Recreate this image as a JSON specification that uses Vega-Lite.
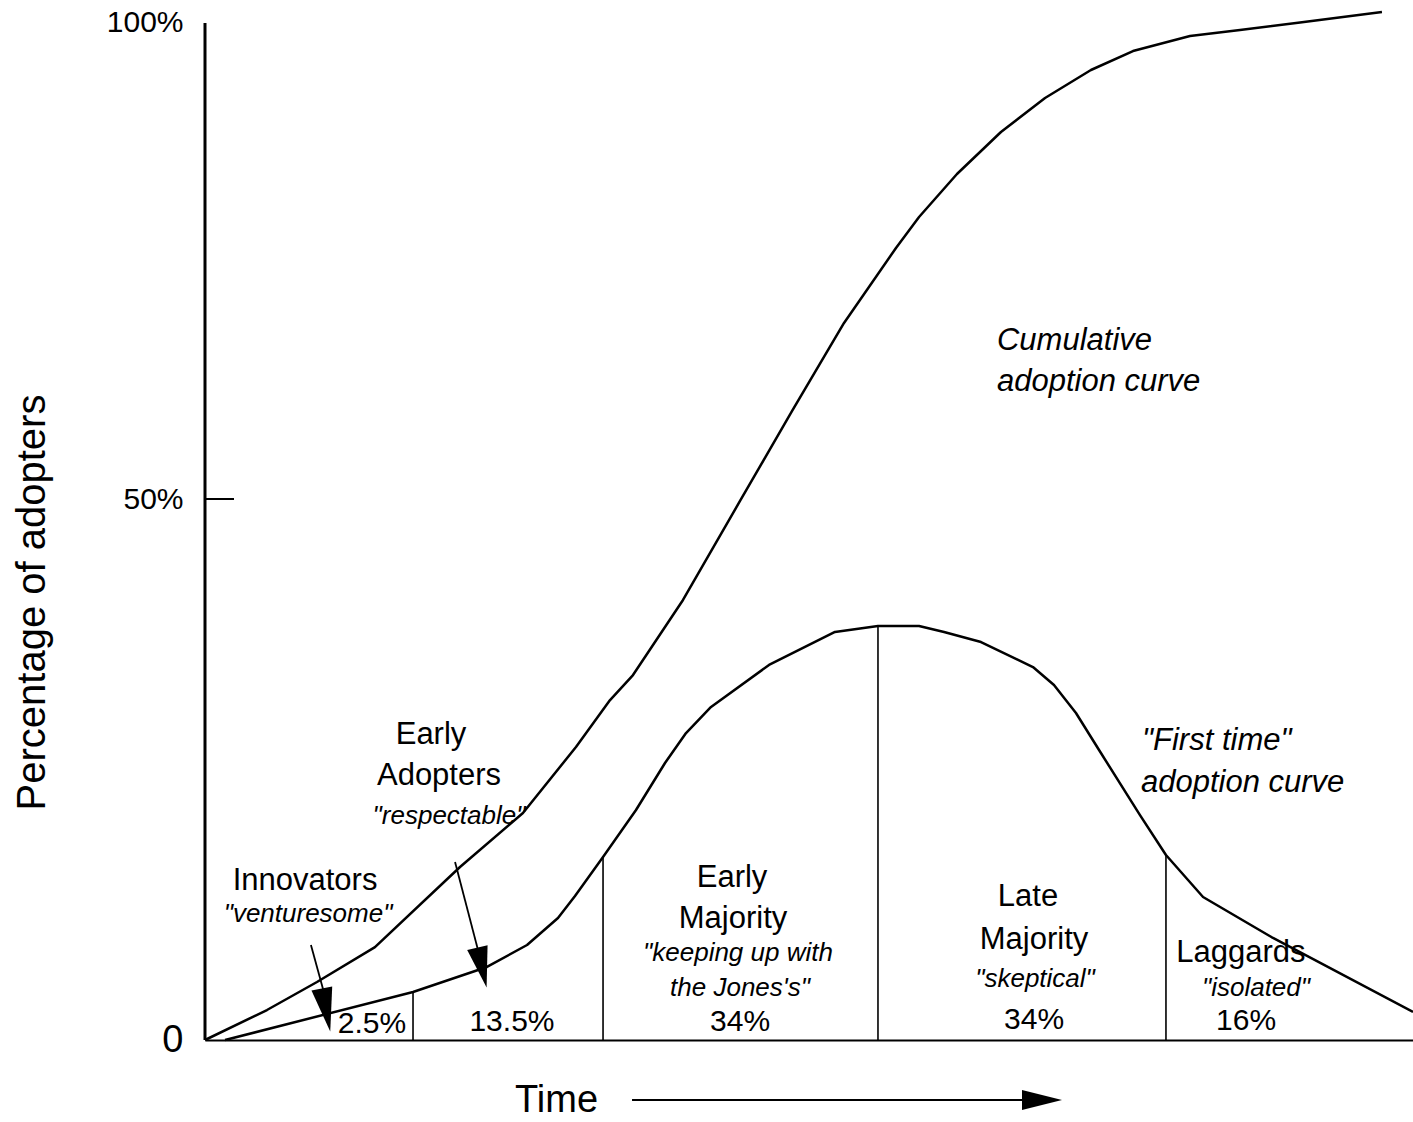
{
  "$schema": "https://vega.github.io/schema/vega-lite/v6.json",
  "width": 1208,
  "height": 1040,
  "autosize": {"type": "none"},
  "padding": {"left": 205, "top": 0, "right": 0, "bottom": 82},
  "background": "white",
  "config": {"view": {"stroke": null}, "font": "Liberation Sans"},
  "datasets": {
    "curves": [
      {"series": "Cumulative", "t": 0, "pct": 0},
      {"series": "Cumulative", "t": 5.13, "pct": 2.77},
      {"series": "Cumulative", "t": 9.27, "pct": 5.36},
      {"series": "Cumulative", "t": 14.07, "pct": 8.59},
      {"series": "Cumulative", "t": 21.11, "pct": 15.99},
      {"series": "Cumulative", "t": 26.32, "pct": 20.98},
      {"series": "Cumulative", "t": 30.71, "pct": 27.08},
      {"series": "Cumulative", "t": 33.53, "pct": 31.42},
      {"series": "Cumulative", "t": 35.43, "pct": 33.73},
      {"series": "Cumulative", "t": 39.57, "pct": 40.67},
      {"series": "Cumulative", "t": 44.29, "pct": 49.82},
      {"series": "Cumulative", "t": 48.59, "pct": 58.13},
      {"series": "Cumulative", "t": 52.9, "pct": 66.27},
      {"series": "Cumulative", "t": 57.2, "pct": 73.2},
      {"series": "Cumulative", "t": 59.11, "pct": 76.06},
      {"series": "Cumulative", "t": 62.25, "pct": 80.04},
      {"series": "Cumulative", "t": 65.89, "pct": 83.92},
      {"series": "Cumulative", "t": 69.54, "pct": 87.06},
      {"series": "Cumulative", "t": 73.34, "pct": 89.65},
      {"series": "Cumulative", "t": 76.82, "pct": 91.4},
      {"series": "Cumulative", "t": 81.54, "pct": 92.79},
      {"series": "Cumulative", "t": 85.68, "pct": 93.35},
      {"series": "Cumulative", "t": 90.65, "pct": 94.04},
      {"series": "Cumulative", "t": 97.43, "pct": 95.01},
      {"series": "First time", "t": 1.66, "pct": 0},
      {"series": "First time", "t": 17.22, "pct": 4.44},
      {"series": "First time", "t": 23.34, "pct": 6.75},
      {"series": "First time", "t": 26.66, "pct": 8.78},
      {"series": "First time", "t": 29.22, "pct": 11.28},
      {"series": "First time", "t": 30.63, "pct": 13.31},
      {"series": "First time", "t": 32.95, "pct": 16.91},
      {"series": "First time", "t": 35.68, "pct": 21.26},
      {"series": "First time", "t": 38.08, "pct": 25.6},
      {"series": "First time", "t": 39.82, "pct": 28.37},
      {"series": "First time", "t": 41.89, "pct": 30.78},
      {"series": "First time", "t": 46.69, "pct": 34.66},
      {"series": "First time", "t": 52.15, "pct": 37.71},
      {"series": "First time", "t": 55.71, "pct": 38.26},
      {"series": "First time", "t": 59.11, "pct": 38.26},
      {"series": "First time", "t": 61.18, "pct": 37.71},
      {"series": "First time", "t": 64.24, "pct": 36.78},
      {"series": "First time", "t": 68.54, "pct": 34.47},
      {"series": "First time", "t": 70.28, "pct": 32.81},
      {"series": "First time", "t": 72.1, "pct": 30.22},
      {"series": "First time", "t": 74.01, "pct": 26.8},
      {"series": "First time", "t": 77.4, "pct": 20.79},
      {"series": "First time", "t": 79.55, "pct": 17.1},
      {"series": "First time", "t": 82.62, "pct": 13.22},
      {"series": "First time", "t": 88.41, "pct": 9.43},
      {"series": "First time", "t": 100, "pct": 2.59}
    ],
    "dividers": [
      {"t": 17.22, "base": 0, "top": 4.44},
      {"t": 32.95, "base": 0, "top": 16.91},
      {"t": 55.71, "base": 0, "top": 38.26},
      {"t": 79.55, "base": 0, "top": 17.1}
    ],
    "labels": [
      {"text": "Innovators", "role": "name", "t": 8.28, "pct": 14.7},
      {"text": "\"venturesome\"", "role": "trait", "t": 8.53, "pct": 11.65},
      {"text": "2.5%", "role": "share", "t": 13.82, "pct": 1.48},
      {"text": "Early", "role": "name", "t": 18.71, "pct": 28.19},
      {"text": "Adopters", "role": "name", "t": 19.37, "pct": 24.4},
      {"text": "\"respectable\"", "role": "trait", "t": 20.2, "pct": 20.7},
      {"text": "13.5%", "role": "share", "t": 25.41, "pct": 1.66},
      {"text": "Early", "role": "name", "t": 43.63, "pct": 14.97},
      {"text": "Majority", "role": "name", "t": 43.71, "pct": 11.18},
      {"text": "\"keeping up with", "role": "trait", "t": 44.12, "pct": 8.04},
      {"text": "the Jones's\"", "role": "trait", "t": 44.29, "pct": 4.81},
      {"text": "34%", "role": "share", "t": 44.29, "pct": 1.66},
      {"text": "Late", "role": "name", "t": 68.13, "pct": 13.22},
      {"text": "Majority", "role": "name", "t": 68.63, "pct": 9.24},
      {"text": "\"skeptical\"", "role": "trait", "t": 68.71, "pct": 5.64},
      {"text": "34%", "role": "share", "t": 68.63, "pct": 1.85},
      {"text": "Laggards", "role": "name", "t": 85.76, "pct": 8.04},
      {"text": "\"isolated\"", "role": "trait", "t": 87.0, "pct": 4.81},
      {"text": "16%", "role": "share", "t": 86.18, "pct": 1.76},
      {"text": "Cumulative", "role": "curve", "t": 65.56, "pct": 64.6},
      {"text": "adoption curve", "role": "curve", "t": 65.56, "pct": 60.81},
      {"text": "\"First time\"", "role": "curve", "t": 77.57, "pct": 27.63},
      {"text": "adoption curve", "role": "curve", "t": 77.48, "pct": 23.75}
    ],
    "arrows": [
      {"group": "Innovators", "t": 8.77, "pct": 8.78, "t2": 10.02, "pct2": 3.7},
      {"group": "Early Adopters", "t": 20.7, "pct": 16.45, "t2": 22.6, "pct2": 8.32}
    ],
    "heads": [
      {"group": "Innovators", "t": 10.02, "pct": 2.77},
      {"group": "Early Adopters", "t": 22.93, "pct": 6.7}
    ],
    "axisparts": [
      {"part": "yaxis", "t": 0, "t2": 0, "pct": 0, "pct2": 94},
      {"part": "tick50", "t": 0, "t2": 2.4, "pct": 50, "pct2": 50},
      {"part": "timearrow", "t": 35.35, "t2": 68.3, "pct": -5.55, "pct2": -5.55}
    ],
    "timehead": [
      {"t": 69.29, "pct": -5.55}
    ]
  },
  "layer": [
    {
      "data": {"name": "curves"},
      "mark": {"type": "line", "color": "black", "strokeWidth": 2.5, "strokeJoin": "round"},
      "encoding": {
        "x": {
          "field": "t", "type": "quantitative",
          "scale": {"domain": [0, 100], "nice": false, "zero": false},
          "axis": {
            "title": "Time", "titleFont": "Liberation Sans", "titleFontSize": 38, "titleFontWeight": "normal",
            "titleColor": "black", "titleX": 351, "titleY": 60, "titleAlign": "center", "titleBaseline": "middle",
            "labels": false, "ticks": false, "grid": false, "domain": true, "domainColor": "black", "domainWidth": 2
          }
        },
        "y": {
          "field": "pct", "type": "quantitative",
          "scale": {"domain": [0, 96.12], "nice": false, "zero": false},
          "axis": {
            "title": "Percentage of adopters", "titleFont": "Liberation Sans", "titleFontSize": 40, "titleFontWeight": "normal",
            "titleColor": "black", "titleAngle": 270, "titleX": -173, "titleY": 602, "titleAlign": "center", "titleBaseline": "middle",
            "values": [0, 50, 94],
            "labelExpr": "datum.value == 0 ? '0' : (datum.value == 50 ? '50%' : '100%')",
            "labelFont": "Liberation Sans",
            "labelFontSize": {"condition": {"test": "datum.value == 0", "value": 38}, "value": 30},
            "labelColor": "black", "labelPadding": 22, "ticks": false, "domain": false, "grid": false
          }
        },
        "detail": {"field": "series", "type": "nominal"}
      }
    },
    {
      "data": {"name": "axisparts"},
      "transform": [{"filter": "datum.part == 'yaxis'"}],
      "mark": {"type": "rule", "color": "black", "strokeWidth": 3},
      "encoding": {
        "x": {"field": "t", "type": "quantitative"},
        "y": {"field": "pct", "type": "quantitative"},
        "x2": {"field": "t2"},
        "y2": {"field": "pct2"}
      }
    },
    {
      "data": {"name": "axisparts"},
      "transform": [{"filter": "datum.part != 'yaxis'"}],
      "mark": {"type": "rule", "color": "black", "strokeWidth": 2},
      "encoding": {
        "x": {"field": "t", "type": "quantitative"},
        "y": {"field": "pct", "type": "quantitative"},
        "x2": {"field": "t2"},
        "y2": {"field": "pct2"}
      }
    },
    {
      "data": {"name": "dividers"},
      "mark": {"type": "rule", "color": "black", "strokeWidth": 1.6},
      "encoding": {
        "x": {"field": "t", "type": "quantitative"},
        "y": {"field": "base", "type": "quantitative"},
        "y2": {"field": "top"}
      }
    },
    {
      "data": {"name": "arrows"},
      "mark": {"type": "rule", "color": "black", "strokeWidth": 1.8},
      "encoding": {
        "x": {"field": "t", "type": "quantitative"},
        "y": {"field": "pct", "type": "quantitative"},
        "x2": {"field": "t2"},
        "y2": {"field": "pct2"}
      }
    },
    {
      "data": {"name": "heads"},
      "transform": [{"filter": "datum.group == 'Innovators'"}],
      "mark": {"type": "point", "filled": true, "color": "black", "opacity": 1, "strokeWidth": 0,
               "shape": "M -0.48 -1 L 0.48 -1 L 0 1 Z", "size": 1936, "angle": 349},
      "encoding": {
        "x": {"field": "t", "type": "quantitative"},
        "y": {"field": "pct", "type": "quantitative"}
      }
    },
    {
      "data": {"name": "heads"},
      "transform": [{"filter": "datum.group == 'Early Adopters'"}],
      "mark": {"type": "point", "filled": true, "color": "black", "opacity": 1, "strokeWidth": 0,
               "shape": "M -0.51 -1 L 0.51 -1 L 0 1 Z", "size": 1681, "angle": 347},
      "encoding": {
        "x": {"field": "t", "type": "quantitative"},
        "y": {"field": "pct", "type": "quantitative"}
      }
    },
    {
      "data": {"name": "timehead"},
      "mark": {"type": "point", "filled": true, "color": "black", "opacity": 1, "strokeWidth": 0,
               "shape": "M -1 -0.5 L 1 0 L -1 0.5 Z", "size": 1600},
      "encoding": {
        "x": {"field": "t", "type": "quantitative"},
        "y": {"field": "pct", "type": "quantitative"}
      }
    },
    {
      "data": {"name": "labels"},
      "transform": [{"filter": "datum.role == 'name'"}],
      "mark": {"type": "text", "font": "Liberation Sans", "fontSize": 31, "color": "black", "align": "center", "baseline": "middle"},
      "encoding": {
        "x": {"field": "t", "type": "quantitative"},
        "y": {"field": "pct", "type": "quantitative"},
        "text": {"field": "text", "type": "nominal"}
      }
    },
    {
      "data": {"name": "labels"},
      "transform": [{"filter": "datum.role == 'trait'"}],
      "mark": {"type": "text", "font": "Liberation Sans", "fontSize": 26, "fontStyle": "italic", "color": "black", "align": "center", "baseline": "middle"},
      "encoding": {
        "x": {"field": "t", "type": "quantitative"},
        "y": {"field": "pct", "type": "quantitative"},
        "text": {"field": "text", "type": "nominal"}
      }
    },
    {
      "data": {"name": "labels"},
      "transform": [{"filter": "datum.role == 'share'"}],
      "mark": {"type": "text", "font": "Liberation Sans", "fontSize": 30, "color": "black", "align": "center", "baseline": "middle"},
      "encoding": {
        "x": {"field": "t", "type": "quantitative"},
        "y": {"field": "pct", "type": "quantitative"},
        "text": {"field": "text", "type": "nominal"}
      }
    },
    {
      "data": {"name": "labels"},
      "transform": [{"filter": "datum.role == 'curve'"}],
      "mark": {"type": "text", "font": "Liberation Sans", "fontSize": 31, "fontStyle": "italic", "color": "black", "align": "left", "baseline": "middle"},
      "encoding": {
        "x": {"field": "t", "type": "quantitative"},
        "y": {"field": "pct", "type": "quantitative"},
        "text": {"field": "text", "type": "nominal"}
      }
    }
  ]
}
